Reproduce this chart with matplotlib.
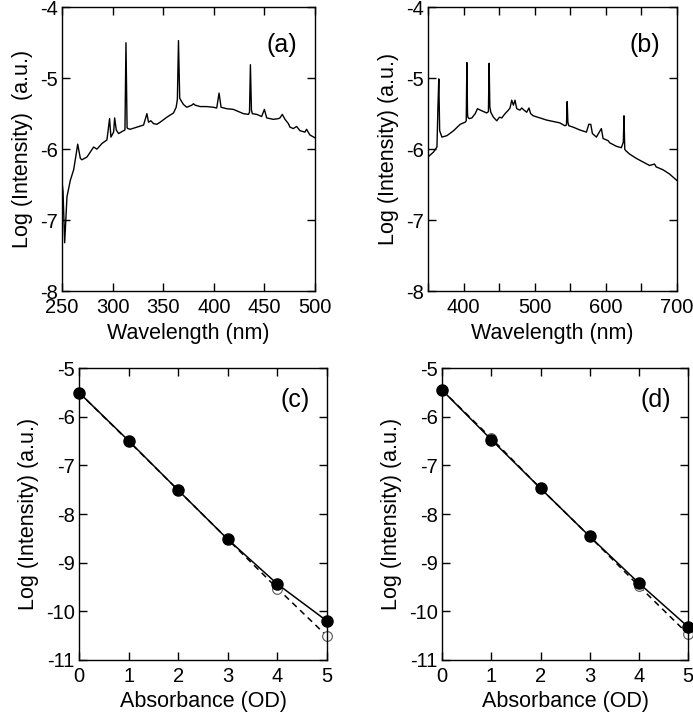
import matplotlib
matplotlib.use('Agg')
import matplotlib.pyplot as plt

plt.rcParams['font.family'] = ['Liberation Sans', 'DejaVu Sans']
plt.rcParams['axes.unicode_minus'] = False

# (a) spectrum, 250-500 nm
wl_a = [250.0, 251.0, 252.6, 254.9, 258.2, 261.5, 264.1, 265.5, 268.1, 269.7, 274.7,
        278.0, 281.2, 284.5, 289.5, 294.4, 297.0, 298.3, 301.0, 302.0, 303.6, 305.9,
        310.8, 312.2, 313.2, 314.3, 315.1, 317.4, 324.0, 330.6, 333.9, 335.5, 337.8,
        340.4, 343.7, 347.0, 353.6, 360.2, 362.8, 364.0, 365.1, 366.3, 367.4, 370.0,
        373.3, 378.3, 379.9, 381.6, 386.5, 393.1, 399.6, 402.9, 405.2, 407.2, 412.8,
        419.4, 422.7, 429.3, 434.2, 435.3, 436.2, 437.2, 438.1, 442.4, 447.3, 450.0,
        452.3, 458.9, 463.8, 465.4, 467.7, 470.4, 473.7, 475.3, 478.6, 481.9, 485.2,
        490.1, 491.7, 495.0, 500.0]
log_a = [-6.46, -6.60, -7.32, -6.67, -6.44, -6.29, -6.06, -5.93, -6.13, -6.15, -6.11,
         -6.04, -5.97, -6.00, -5.92, -5.87, -5.57, -5.83, -5.76, -5.56, -5.73, -5.78,
         -5.74, -5.73, -4.50, -5.70, -5.71, -5.72, -5.69, -5.66, -5.50, -5.62, -5.60,
         -5.64, -5.65, -5.62, -5.55, -5.49, -5.41, -5.30, -4.47, -5.28, -5.31, -5.37,
         -5.41, -5.38, -5.36, -5.38, -5.40, -5.40, -5.41, -5.42, -5.21, -5.41, -5.43,
         -5.44, -5.46, -5.50, -5.51, -5.48, -4.81, -5.45, -5.50, -5.51, -5.54, -5.44,
         -5.56, -5.58, -5.57, -5.56, -5.51, -5.58, -5.64, -5.69, -5.71, -5.68, -5.74,
         -5.76, -5.72, -5.80, -5.84]

# (b) spectrum, 350-700 nm
wl_b = [350.0, 357.9, 362.6, 364.0, 365.2, 366.4, 369.6, 376.6, 386.0, 395.3, 402.3,
        403.8, 404.7, 405.6, 406.1, 407.9, 411.7, 416.4, 419.6, 425.7, 432.7, 435.0,
        436.0, 437.0, 438.3, 442.1, 446.7, 450.5, 453.7, 458.4, 463.1, 465.4, 467.8,
        470.1, 472.4, 474.8, 479.4, 481.8, 485.1, 488.8, 492.1, 494.4, 498.1, 507.5,
        516.8, 526.2, 535.5, 542.5, 544.8, 545.8, 546.8, 548.1, 554.2, 563.6, 572.9,
        576.2, 579.0, 581.3, 586.9, 593.9, 596.3, 603.3, 605.6, 615.0, 622.0, 624.8,
        625.7, 626.8, 628.1, 633.7, 643.0, 652.3, 661.7, 668.7, 671.0, 680.4, 683.6,
        689.7, 700.0]
log_b = [-6.11, -6.04, -5.97, -5.40, -5.01, -5.74, -5.83, -5.81, -5.74, -5.65, -5.62,
         -5.60, -4.78, -5.50, -5.55, -5.57, -5.56, -5.50, -5.43, -5.46, -5.49, -5.47,
         -4.79, -5.40, -5.48, -5.55, -5.60, -5.55, -5.56, -5.50, -5.45, -5.42, -5.31,
         -5.38, -5.31, -5.43, -5.45, -5.42, -5.45, -5.48, -5.42, -5.50, -5.53, -5.56,
         -5.59, -5.61, -5.63, -5.67, -5.66, -5.33, -5.62, -5.67, -5.69, -5.73, -5.76,
         -5.65, -5.65, -5.78, -5.83, -5.71, -5.85, -5.88, -5.91, -5.96, -5.98, -5.90,
         -5.53, -6.00, -6.02, -6.07, -6.13, -6.18, -6.23, -6.21, -6.25, -6.29, -6.31,
         -6.35, -6.44]

# (c), (d) attenuation series
od = [0, 1, 2, 3, 4, 5]
c_meas = [-5.50, -6.49, -7.51, -8.52, -9.44, -10.20]
c_calc = [-5.50, -6.50, -7.51, -8.52, -9.53, -10.51]
d_meas = [-5.45, -6.47, -7.47, -8.46, -9.42, -10.32]
d_calc = [-5.45, -6.44, -7.47, -8.46, -9.48, -10.47]

fig = plt.figure(figsize=(6.93, 7.24), dpi=100)
ax_a = fig.add_axes([0.0895, 0.598, 0.365, 0.392])
ax_b = fig.add_axes([0.6176, 0.598, 0.359, 0.392])
ax_c = fig.add_axes([0.114, 0.0884, 0.358, 0.403])
ax_d = fig.add_axes([0.638, 0.0884, 0.355, 0.403])


def style(ax):
    ax.tick_params(direction='in', top=True, right=True, length=6, width=1,
                   labelsize=14.5)
    ax.tick_params(axis='x', pad=5)
    ax.tick_params(axis='y', pad=3)
    for s in ax.spines.values():
        s.set_linewidth(1)


ax_a.plot(wl_a, log_a, color='black', lw=1)
ax_a.set_xlim(250, 500)
ax_a.set_ylim(-8, -4)
ax_a.set_xticks([250, 300, 350, 400, 450, 500])
ax_a.set_yticks([-8, -7, -6, -5, -4])
ax_a.set_xlabel('Wavelength (nm)', fontsize=15.5, labelpad=4)
ax_a.set_ylabel('Log (Intensity)  (a.u.)', fontsize=15.5, labelpad=5)
ax_a.text(0.87, 0.866, '(a)', transform=ax_a.transAxes, fontsize=18,
          ha='center', va='center')

ax_b.plot(wl_b, log_b, color='black', lw=1)
ax_b.set_xlim(350, 700)
ax_b.set_ylim(-8, -4)
ax_b.set_xticks([350, 400, 450, 500, 550, 600, 650, 700])
ax_b.set_xticklabels(['', '400', '', '500', '', '600', '', '700'])
ax_b.set_yticks([-8, -7, -6, -5, -4])
ax_b.set_xlabel('Wavelength (nm)', fontsize=15.5, labelpad=4)
ax_b.set_ylabel('Log (Intensity) (a.u.)', fontsize=15.5, labelpad=5)
ax_b.text(0.87, 0.866, '(b)', transform=ax_b.transAxes, fontsize=18,
          ha='center', va='center')

for ax, meas, calc, lab in [(ax_c, c_meas, c_calc, '(c)'), (ax_d, d_meas, d_calc, '(d)')]:
    ax.plot(od, calc, color='black', lw=1.1, ls=(0, (4, 3)), marker='o', ms=7,
            mfc='white', mec='#555555', mew=0.8, clip_on=False, zorder=2)
    ax.plot(od, meas, color='black', lw=1.1, marker='o', ms=8, mfc='black',
            mec='black', clip_on=False, zorder=3)
    ax.set_xlim(0, 5)
    ax.set_ylim(-11, -5)
    ax.set_xticks(od)
    ax.set_yticks([-11, -10, -9, -8, -7, -6, -5])
    ax.set_xlabel('Absorbance (OD)', fontsize=15.5, labelpad=4)
    ax.set_ylabel('Log (Intensity) (a.u.)', fontsize=15.5, labelpad=5)
    ax.text(0.87, 0.89, lab, transform=ax.transAxes, fontsize=18,
            ha='center', va='center')

for ax in (ax_a, ax_b, ax_c, ax_d):
    style(ax)

fig.savefig('out.png', dpi=100)
